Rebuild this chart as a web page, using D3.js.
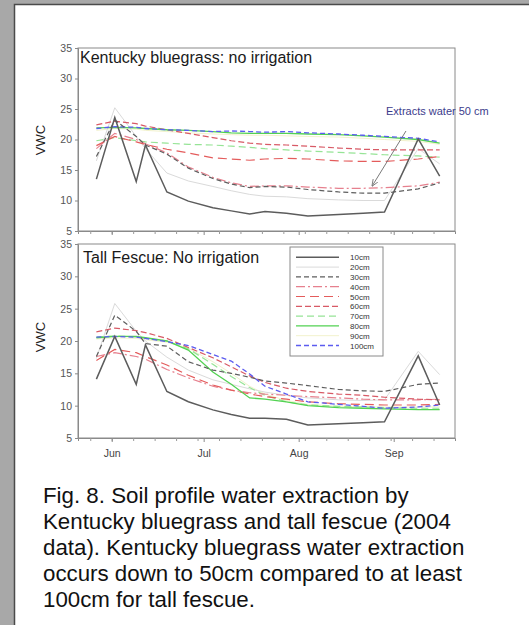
<!DOCTYPE html>
<html>
<head>
<meta charset="utf-8">
<script src="https://cdn.jsdelivr.net/npm/d3@7"></script>
<style>
  html, body { margin: 0; padding: 0; background: #a8a8a8; }
  svg { display: block; }
</style>
</head>
<body>
<script>
// Sampling dates shared by every depth series (2004 season)
const dates = ["2004-05-27","2004-06-02","2004-06-09","2004-06-12","2004-06-19","2004-06-26",
  "2004-07-04","2004-07-10","2004-07-16","2004-07-21","2004-07-28","2004-08-04",
  "2004-08-14","2004-08-22","2004-08-29","2004-09-09","2004-09-16"];

const depths = ["10cm","20cm","30cm","40cm","50cm","60cm","70cm","80cm","90cm","100cm"];

// Kentucky bluegrass, no irrigation — VWC by depth
const kbg10  = [13.5,23.6,13.1,19.1,11.4,9.9,8.8,8.3,7.8,8.2,7.9,7.45,7.7,7.9,8.1,20.1,14.0];
const kbg20  = [16.5,25.2,20.5,18.5,14.5,13.2,12.3,11.6,11.0,10.7,10.6,10.3,10.1,10.0,10.0,18.5,16.0];
const kbg30  = [17.2,23.2,20.5,19.1,17.6,15.3,13.6,12.7,12.1,12.3,12.2,11.8,11.4,11.2,11.2,11.9,12.9];
const kbg40  = [18.5,21.0,20.0,19.3,17.8,15.5,13.8,12.9,12.3,12.4,12.4,12.2,12.0,12.0,12.1,12.4,13.0];
const kbg50  = [19.0,20.5,19.6,19.2,18.4,17.8,17.0,16.8,16.6,16.8,16.9,16.8,16.5,16.4,16.4,16.8,17.2];
const kbg60  = [22.4,23.0,22.6,22.2,21.6,21.0,20.3,19.8,19.4,19.2,19.1,18.9,18.6,18.4,18.3,18.3,18.3];
const kbg70  = [19.8,20.3,19.8,19.6,19.4,19.2,19.1,18.9,18.7,18.5,18.3,18.1,17.9,17.7,17.5,17.3,17.1];
const kbg80  = [21.9,22.0,21.9,21.8,21.6,21.5,21.3,21.1,21.0,21.0,21.0,20.9,20.8,20.6,20.4,20.0,19.4];
const kbg90  = [21.5,21.8,21.7,21.5,21.3,21.1,20.9,20.8,20.7,20.7,20.6,20.5,20.4,20.2,20.0,19.7,19.2];
const kbg100 = [21.8,22.1,22.0,21.8,21.6,21.5,21.3,21.4,21.3,21.2,21.3,21.1,20.9,20.7,20.5,20.2,19.6];

// Tall fescue, no irrigation — VWC by depth
const tf10  = [14.1,20.7,13.3,19.4,12.2,10.6,9.35,8.65,8.05,8.05,7.9,7.0,7.2,7.35,7.5,17.7,10.1];
const tf20  = [17.3,25.8,21.5,20.0,17.5,15.5,14.0,13.3,12.6,12.1,11.6,11.2,10.9,10.8,10.9,18.4,14.8];
const tf30  = [17.6,24.0,21.5,19.6,19.2,16.8,15.5,15.0,14.4,13.8,13.5,13.1,12.5,12.3,12.2,13.3,13.5];
const tf40  = [17.6,18.2,17.6,17.2,15.6,14.3,13.0,12.4,12.0,11.8,11.6,11.4,11.2,11.0,10.9,10.9,11.0];
const tf50  = [17.0,18.7,18.2,17.6,16.3,14.7,13.2,12.4,11.8,11.4,11.0,10.6,10.3,10.2,10.1,10.1,10.2];
const tf60  = [21.4,22.0,21.6,21.3,20.4,19.0,17.4,16.0,14.6,13.6,12.7,12.2,11.8,11.6,11.3,11.0,10.9];
const tf70  = [20.6,20.8,20.6,20.4,20.0,18.8,16.4,14.5,12.8,11.6,10.6,10.1,9.9,9.8,9.7,9.6,9.6];
const tf80  = [20.5,20.7,20.7,20.5,20.0,18.6,15.2,13.3,11.2,11.0,10.6,10.0,9.7,9.6,9.5,9.4,9.4];
const tf90  = [20.3,20.5,20.4,20.2,19.8,18.9,16.8,15.0,13.0,11.8,10.8,10.2,9.9,9.8,9.8,9.8,9.8];
const tf100 = [20.6,20.7,20.6,20.4,19.9,19.3,17.9,16.9,14.9,13.0,11.8,10.6,10.2,9.9,9.6,9.8,10.1];

const yTicks = [5,10,15,20,25,30,35];
const monthLabels = ["Jun","Jul","Aug","Sep"];
const monthStarts = ["2004-06-01","2004-07-01","2004-08-01","2004-09-01"];
const panelTitles = ["Kentucky bluegrass: no irrigation","Tall Fescue: No irrigation"];
const yLabel = "VWC";
const note = "Extracts water 50 cm";
const captionLines = [
  "Fig. 8. Soil profile water extraction by",
  "Kentucky bluegrass and tall fescue (2004",
  "data). Kentucky bluegrass water extraction",
  "occurs down to 50cm compared to at least",
  "100cm for tall fescue."
];

// Line style per depth
const styles = [
  {color:"#5c5c5c", dash:null,      width:1.5},
  {color:"#dadada", dash:null,      width:1.0},
  {color:"#5e5e5e", dash:"5,3",     width:1.2},
  {color:"#e6808e", dash:"9,3,2,3", width:1.2},
  {color:"#e45c5c", dash:"9,5",     width:1.2},
  {color:"#d85a66", dash:"6,3",     width:1.2},
  {color:"#96e496", dash:"7,4",     width:1.2},
  {color:"#52d252", dash:null,      width:1.3},
  {color:"#f2f2cc", dash:null,      width:1.0},
  {color:"#5c5cf0", dash:"5,3",     width:1.3}
];

const FONT = "Arial, 'Liberation Sans', sans-serif";
const parse = d3.timeParse("%Y-%m-%d");
const W = 529, H = 625;

const svg = d3.select("body").append("svg").attr("width", W).attr("height", H);

// White page with a dark edge on the grey surround
svg.append("rect").attr("x", 14.5).attr("y", 4.5).attr("width", W).attr("height", H)
  .attr("fill", "#ffffff").attr("stroke", "#4a4a4a").attr("stroke-width", 1.5);

const x = d3.scaleTime()
  .domain([parse("2004-05-21"), parse("2004-09-21")])
  .range([78, 455]);

const panels = [
  {top: 48, bottom: 231, series: [kbg10,kbg20,kbg30,kbg40,kbg50,kbg60,kbg70,kbg80,kbg90,kbg100]},
  {top: 244, bottom: 438, series: [tf10,tf20,tf30,tf40,tf50,tf60,tf70,tf80,tf90,tf100]}
];

panels.forEach((p, pi) => {
  const y = d3.scaleLinear().domain([5, 35]).range([p.bottom, p.top]);
  const g = svg.append("g");

  // Series: faint lines first, darker on top
  const line = d3.line().x((d, i) => x(parse(dates[i]))).y(d => y(d));
  const order = [8,1,6,3,5,4,7,9,2,0];
  order.forEach(k => {
    const s = styles[k];
    g.append("path").datum(p.series[k])
      .attr("d", line)
      .attr("fill", "none")
      .attr("stroke", s.color)
      .attr("stroke-width", s.width)
      .attr("stroke-dasharray", s.dash);
  });

  // Frame
  g.append("rect").attr("x", 78).attr("y", p.top)
    .attr("width", 455 - 78).attr("height", p.bottom - p.top)
    .attr("fill", "none").attr("stroke", "#8a8a8a").attr("stroke-width", 1);

  // Y axis
  const yAxis = d3.axisLeft(y).tickValues(yTicks).tickSize(3).tickPadding(3).tickFormat(d3.format("d"));
  const ya = g.append("g").attr("transform", "translate(78,0)").call(yAxis);
  ya.select(".domain").attr("stroke", "#8a8a8a");
  ya.selectAll(".tick line").attr("stroke", "#8a8a8a");
  ya.selectAll("text").attr("font-family", FONT).attr("font-size", 10.5).attr("fill", "#555");

  // X axis: weekly minor ticks + month ticks
  const minor = d3.timeTuesday.range(parse("2004-05-22"), parse("2004-09-21"));
  const xMinor = d3.axisBottom(x).tickValues(minor).tickSize(3).tickFormat("");
  const xa = g.append("g").attr("transform", `translate(0,${p.bottom})`).call(xMinor);
  xa.select(".domain").attr("stroke", "#8a8a8a");
  xa.selectAll(".tick line").attr("stroke", "#9a9a9a");
  const xMajor = d3.axisBottom(x).tickValues(monthStarts.map(parse)).tickSize(4)
    .tickFormat((d, i) => pi === 1 ? monthLabels[i] : "").tickPadding(8);
  const xb = g.append("g").attr("transform", `translate(0,${p.bottom})`).call(xMajor);
  xb.select(".domain").remove();
  xb.selectAll(".tick line").attr("stroke", "#8a8a8a");
  xb.selectAll("text").attr("font-family", FONT).attr("font-size", 10.5).attr("fill", "#444");

  // Panel title
  g.append("text").attr("x", pi === 0 ? 80 : 83).attr("y", p.top + (pi === 0 ? 15 : 19))
    .attr("font-family", FONT).attr("font-size", 16).attr("fill", "#1a1a1a")
    .text(panelTitles[pi]);

  // Y label
  g.append("text")
    .attr("transform", `translate(45,${pi === 0 ? 140 : 337}) rotate(-90)`)
    .attr("text-anchor", "middle")
    .attr("font-family", FONT).attr("font-size", 13).attr("fill", "#222")
    .text(yLabel);

  if (pi === 0) {
    // Annotation with arrow
    const defs = svg.append("defs");
    defs.append("marker").attr("id", "ah").attr("viewBox", "0 0 10 10")
      .attr("refX", 9).attr("refY", 5).attr("markerWidth", 7).attr("markerHeight", 7)
      .attr("orient", "auto")
      .append("path").attr("d", "M0,1 L10,5 L0,9").attr("fill", "none")
      .attr("stroke", "#777").attr("stroke-width", 1.2);
    g.append("text").attr("x", 386).attr("y", 115)
      .attr("font-family", FONT).attr("font-size", 11).attr("fill", "#3c3c8c")
      .text(note);
    g.append("line")
      .attr("x1", x(parse("2004-09-05"))).attr("y1", 131)
      .attr("x2", x(parse("2004-08-25"))).attr("y2", y(12.4))
      .attr("stroke", "#7a7a7a").attr("stroke-width", 1)
      .attr("marker-end", "url(#ah)");
  } else {
    // Legend
    const lg = g.append("g");
    lg.append("rect").attr("x", 290).attr("y", 247).attr("width", 93).attr("height", 109)
      .attr("fill", "#ffffff").attr("stroke", "#8a8a8a").attr("stroke-width", 1);
    depths.forEach((name, k) => {
      const yy = 257.3 + k * 9.8;
      const s = styles[k];
      lg.append("line").attr("x1", 296).attr("x2", 339).attr("y1", yy).attr("y2", yy)
        .attr("stroke", s.color).attr("stroke-width", s.width)
        .attr("stroke-dasharray", s.dash);
      lg.append("text").attr("x", 350).attr("y", yy + 3)
        .attr("font-family", FONT).attr("font-size", 8).attr("fill", "#333")
        .text(name);
    });
  }
});

// Caption
const cap = svg.append("text")
  .attr("font-family", FONT).attr("font-size", 22.3).attr("fill", "#111");
captionLines.forEach((t, i) => {
  cap.append("tspan").attr("x", 43).attr("y", 503 + i * 26).text(t);
});
</script>
</body>
</html>
